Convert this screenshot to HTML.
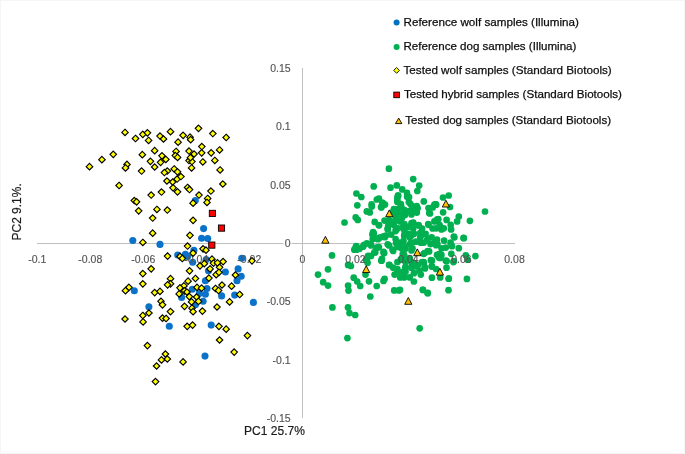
<!DOCTYPE html>
<html><head><meta charset="utf-8"><title>PCA plot</title>
<style>
html,body{margin:0;padding:0;background:#fff;}
body{width:685px;height:454px;overflow:hidden;position:relative;font-family:"Liberation Sans",sans-serif;}
svg{position:absolute;left:0;top:0;display:block;filter:blur(0.35px);}
</style></head><body>
<svg width="685" height="454" viewBox="0 0 685 454"><rect x="0.5" y="0.5" width="684" height="453" fill="none" stroke="#f5f5f5" stroke-width="1"/>
<g stroke="#bfbfbf" stroke-width="1"><line x1="37" y1="243.5" x2="515" y2="243.5"/><line x1="302.5" y1="68" x2="302.5" y2="418"/></g>
<g fill="#0a72c8"><circle cx="132.8" cy="240.5" r="3.55"/><circle cx="160" cy="244.4" r="3.55"/><circle cx="195.3" cy="200.6" r="3.55"/><circle cx="203.6" cy="228.6" r="3.55"/><circle cx="201.6" cy="238.3" r="3.55"/><circle cx="207.7" cy="238.6" r="3.55"/><circle cx="193.9" cy="250.2" r="3.55"/><circle cx="134.3" cy="290.7" r="3.55"/><circle cx="148.9" cy="306.7" r="3.55"/><circle cx="177.7" cy="255" r="3.55"/><circle cx="181.6" cy="297.4" r="3.55"/><circle cx="185.4" cy="254.2" r="3.55"/><circle cx="187.5" cy="256.5" r="3.55"/><circle cx="192.7" cy="262.3" r="3.55"/><circle cx="206.2" cy="259.6" r="3.55"/><circle cx="208.5" cy="270.8" r="3.55"/><circle cx="205.4" cy="280.8" r="3.55"/><circle cx="241.8" cy="258.2" r="3.55"/><circle cx="225.4" cy="272" r="3.55"/><circle cx="238.1" cy="268.9" r="3.55"/><circle cx="241.2" cy="276.2" r="3.55"/><circle cx="237" cy="280.8" r="3.55"/><circle cx="192.3" cy="289.3" r="3.55"/><circle cx="207" cy="288.5" r="3.55"/><circle cx="199.3" cy="293.6" r="3.55"/><circle cx="205.4" cy="294.3" r="3.55"/><circle cx="203.1" cy="301.3" r="3.55"/><circle cx="195.4" cy="304.7" r="3.55"/><circle cx="221.6" cy="295.9" r="3.55"/><circle cx="234.7" cy="295.1" r="3.55"/><circle cx="253.4" cy="302.4" r="3.55"/><circle cx="169.3" cy="326.3" r="3.55"/><circle cx="211.2" cy="325.1" r="3.55"/><circle cx="205" cy="356.1" r="3.55"/></g>
<g fill="#00b050"><circle cx="388.9" cy="168.7" r="3.35"/><circle cx="373.7" cy="186.4" r="3.35"/><circle cx="390.5" cy="187.7" r="3.35"/><circle cx="396.8" cy="185.4" r="3.35"/><circle cx="356.4" cy="193.5" r="3.35"/><circle cx="361.3" cy="197" r="3.35"/><circle cx="376.8" cy="199.5" r="3.35"/><circle cx="357.3" cy="205.3" r="3.35"/><circle cx="371.6" cy="204.4" r="3.35"/><circle cx="371.8" cy="206.6" r="3.35"/><circle cx="382.3" cy="202.7" r="3.35"/><circle cx="385" cy="204.6" r="3.35"/><circle cx="381" cy="207" r="3.35"/><circle cx="366.8" cy="211.4" r="3.35"/><circle cx="369.8" cy="212.5" r="3.35"/><circle cx="355.7" cy="217.4" r="3.35"/><circle cx="357.8" cy="219.9" r="3.35"/><circle cx="344.5" cy="222.5" r="3.35"/><circle cx="374.7" cy="221.9" r="3.35"/><circle cx="379" cy="225.3" r="3.35"/><circle cx="373.1" cy="232.1" r="3.35"/><circle cx="413.2" cy="179.1" r="3.35"/><circle cx="419.2" cy="185.6" r="3.35"/><circle cx="417.3" cy="191" r="3.35"/><circle cx="402.2" cy="189.4" r="3.35"/><circle cx="407" cy="192.9" r="3.35"/><circle cx="409.1" cy="197" r="3.35"/><circle cx="398" cy="195.7" r="3.35"/><circle cx="397.3" cy="200.2" r="3.35"/><circle cx="400.8" cy="204" r="3.35"/><circle cx="410.5" cy="204" r="3.35"/><circle cx="416.8" cy="206.1" r="3.35"/><circle cx="423.8" cy="201.4" r="3.35"/><circle cx="382.8" cy="203.3" r="3.35"/><circle cx="381.4" cy="207.4" r="3.35"/><circle cx="428.5" cy="208.1" r="3.35"/><circle cx="436.2" cy="204.7" r="3.35"/><circle cx="432.7" cy="207.4" r="3.35"/><circle cx="429.2" cy="213" r="3.35"/><circle cx="443" cy="197.5" r="3.35"/><circle cx="448.7" cy="195.5" r="3.35"/><circle cx="450" cy="207" r="3.35"/><circle cx="443.1" cy="212.3" r="3.35"/><circle cx="458.8" cy="216.5" r="3.35"/><circle cx="457.1" cy="221.4" r="3.35"/><circle cx="469.9" cy="220.8" r="3.35"/><circle cx="435.7" cy="204.4" r="3.35"/><circle cx="438.3" cy="219.2" r="3.35"/><circle cx="446.6" cy="219.9" r="3.35"/><circle cx="450.7" cy="224.8" r="3.35"/><circle cx="428.5" cy="224.8" r="3.35"/><circle cx="418.8" cy="225.5" r="3.35"/><circle cx="413.3" cy="222.7" r="3.35"/><circle cx="407.7" cy="226.9" r="3.35"/><circle cx="443.8" cy="228.3" r="3.35"/><circle cx="436.2" cy="228.3" r="3.35"/><circle cx="393.9" cy="222.7" r="3.35"/><circle cx="388.3" cy="225.5" r="3.35"/><circle cx="398" cy="228.3" r="3.35"/><circle cx="485" cy="211.5" r="3.35"/><circle cx="463.8" cy="238.2" r="3.35"/><circle cx="475.4" cy="256.1" r="3.35"/><circle cx="466.9" cy="278.9" r="3.35"/><circle cx="448.7" cy="278.7" r="3.35"/><circle cx="448.5" cy="290.2" r="3.35"/><circle cx="454.4" cy="237.3" r="3.35"/><circle cx="458.8" cy="248.2" r="3.35"/><circle cx="465.8" cy="255.3" r="3.35"/><circle cx="467.6" cy="259.7" r="3.35"/><circle cx="463.5" cy="237.9" r="3.35"/><circle cx="453.8" cy="236.5" r="3.35"/><circle cx="332" cy="255.4" r="3.35"/><circle cx="328" cy="269.3" r="3.35"/><circle cx="318" cy="274.6" r="3.35"/><circle cx="323.2" cy="282.2" r="3.35"/><circle cx="328" cy="285.6" r="3.35"/><circle cx="348.1" cy="264.9" r="3.35"/><circle cx="350.9" cy="266" r="3.35"/><circle cx="348.1" cy="285.5" r="3.35"/><circle cx="348.5" cy="290.6" r="3.35"/><circle cx="353.7" cy="277.7" r="3.35"/><circle cx="357.2" cy="281.5" r="3.35"/><circle cx="360.2" cy="286" r="3.35"/><circle cx="365.5" cy="274.6" r="3.35"/><circle cx="369" cy="281.3" r="3.35"/><circle cx="376.7" cy="286" r="3.35"/><circle cx="384.6" cy="278.8" r="3.35"/><circle cx="383.5" cy="280.9" r="3.35"/><circle cx="370.3" cy="296.5" r="3.35"/><circle cx="394.2" cy="290.4" r="3.35"/><circle cx="398.8" cy="290.4" r="3.35"/><circle cx="422.9" cy="289.8" r="3.35"/><circle cx="427.7" cy="293.2" r="3.35"/><circle cx="381.4" cy="260.7" r="3.35"/><circle cx="384.2" cy="253.1" r="3.35"/><circle cx="366.9" cy="259.4" r="3.35"/><circle cx="367.6" cy="262.8" r="3.35"/><circle cx="371" cy="255.9" r="3.35"/><circle cx="375.2" cy="252.4" r="3.35"/><circle cx="378" cy="247.6" r="3.35"/><circle cx="355.8" cy="246.9" r="3.35"/><circle cx="357.2" cy="249.6" r="3.35"/><circle cx="364.1" cy="244.8" r="3.35"/><circle cx="366.9" cy="243.4" r="3.35"/><circle cx="371" cy="245.5" r="3.35"/><circle cx="373.8" cy="238.5" r="3.35"/><circle cx="372.4" cy="234.4" r="3.35"/><circle cx="378" cy="239.2" r="3.35"/><circle cx="384.9" cy="237.2" r="3.35"/><circle cx="389.1" cy="245.5" r="3.35"/><circle cx="393.2" cy="251" r="3.35"/><circle cx="398.8" cy="242.7" r="3.35"/><circle cx="401.5" cy="248.3" r="3.35"/><circle cx="389.1" cy="264.9" r="3.35"/><circle cx="393.2" cy="267.7" r="3.35"/><circle cx="397.4" cy="271.8" r="3.35"/><circle cx="394.6" cy="274.6" r="3.35"/><circle cx="400.2" cy="277.4" r="3.35"/><circle cx="402.9" cy="271.8" r="3.35"/><circle cx="400.8" cy="259.4" r="3.35"/><circle cx="356.4" cy="246.1" r="3.35"/><circle cx="354.3" cy="249.7" r="3.35"/><circle cx="359.5" cy="248.7" r="3.35"/><circle cx="363" cy="246.7" r="3.35"/><circle cx="370.7" cy="244.1" r="3.35"/><circle cx="376.3" cy="247.7" r="3.35"/><circle cx="374.3" cy="252.3" r="3.35"/><circle cx="368.1" cy="255.9" r="3.35"/><circle cx="366.1" cy="259.9" r="3.35"/><circle cx="381.9" cy="258.9" r="3.35"/><circle cx="383.5" cy="251.8" r="3.35"/><circle cx="373.8" cy="233.4" r="3.35"/><circle cx="372.7" cy="239" r="3.35"/><circle cx="378.4" cy="238" r="3.35"/><circle cx="383.5" cy="236.4" r="3.35"/><circle cx="384.5" cy="220.6" r="3.35"/><circle cx="332.4" cy="307.4" r="3.35"/><circle cx="348" cy="307.4" r="3.35"/><circle cx="349.5" cy="313.1" r="3.35"/><circle cx="355.2" cy="315" r="3.35"/><circle cx="419.7" cy="328.3" r="3.35"/><circle cx="347.4" cy="338.1" r="3.35"/><circle cx="448.8" cy="278.5" r="3.35"/><circle cx="431.9" cy="277.7" r="3.35"/><circle cx="440.2" cy="277.4" r="3.35"/><circle cx="422.9" cy="289.9" r="3.35"/><circle cx="427.7" cy="292.9" r="3.35"/><circle cx="413.9" cy="281.5" r="3.35"/><circle cx="400" cy="289.9" r="3.35"/><circle cx="444.1" cy="240.6" r="3.35"/><circle cx="450.6" cy="242.7" r="3.35"/><circle cx="452" cy="246.2" r="3.35"/><circle cx="437" cy="239.5" r="3.35"/><circle cx="437.4" cy="244.1" r="3.35"/><circle cx="441.6" cy="248.3" r="3.35"/><circle cx="445.8" cy="247.6" r="3.35"/><circle cx="439.5" cy="253.8" r="3.35"/><circle cx="440.2" cy="258" r="3.35"/><circle cx="445.8" cy="260.7" r="3.35"/><circle cx="451.3" cy="253.8" r="3.35"/><circle cx="453.4" cy="262.1" r="3.35"/><circle cx="446.5" cy="267.7" r="3.35"/><circle cx="431.9" cy="260.7" r="3.35"/><circle cx="431.9" cy="266.3" r="3.35"/><circle cx="427.7" cy="251" r="3.35"/><circle cx="423.6" cy="253.8" r="3.35"/><circle cx="423.6" cy="262.1" r="3.35"/><circle cx="418" cy="264.9" r="3.35"/><circle cx="425" cy="268.4" r="3.35"/><circle cx="411.1" cy="267.7" r="3.35"/><circle cx="405.5" cy="271.8" r="3.35"/><circle cx="413.9" cy="273.2" r="3.35"/><circle cx="420.8" cy="274.6" r="3.35"/><circle cx="404.2" cy="277.4" r="3.35"/><circle cx="409.7" cy="277.4" r="3.35"/><circle cx="404.2" cy="235.8" r="3.35"/><circle cx="411.1" cy="235.8" r="3.35"/><circle cx="420.8" cy="235.8" r="3.35"/><circle cx="427.7" cy="238.5" r="3.35"/><circle cx="402.8" cy="242.7" r="3.35"/><circle cx="411.1" cy="242.7" r="3.35"/><circle cx="420.8" cy="242.7" r="3.35"/><circle cx="430.5" cy="244.1" r="3.35"/><circle cx="405.5" cy="248.3" r="3.35"/><circle cx="412.5" cy="248.3" r="3.35"/><circle cx="404.2" cy="255.2" r="3.35"/><circle cx="409.7" cy="258" r="3.35"/><circle cx="405.5" cy="262.1" r="3.35"/><circle cx="413.9" cy="262.8" r="3.35"/><circle cx="378.9" cy="198.5" r="3.35"/><circle cx="397.4" cy="197.6" r="3.35"/><circle cx="397.4" cy="202" r="3.35"/><circle cx="407.1" cy="196.8" r="3.35"/><circle cx="408.8" cy="202" r="3.35"/><circle cx="400.9" cy="204.7" r="3.35"/><circle cx="393.9" cy="209.1" r="3.35"/><circle cx="404.4" cy="210" r="3.35"/><circle cx="413.2" cy="206.5" r="3.35"/><circle cx="417.6" cy="208.2" r="3.35"/><circle cx="411.5" cy="214.4" r="3.35"/><circle cx="416.8" cy="212.6" r="3.35"/><circle cx="430" cy="213.5" r="3.35"/><circle cx="434.4" cy="204.7" r="3.35"/><circle cx="437" cy="219.7" r="3.35"/><circle cx="389.5" cy="220.5" r="3.35"/><circle cx="395.6" cy="217.9" r="3.35"/><circle cx="400" cy="221.4" r="3.35"/><circle cx="393.9" cy="225" r="3.35"/><circle cx="387.7" cy="229.4" r="3.35"/><circle cx="395.6" cy="231.1" r="3.35"/><circle cx="404.4" cy="230.2" r="3.35"/><circle cx="404.4" cy="224.1" r="3.35"/><circle cx="411.5" cy="223.2" r="3.35"/><circle cx="413.2" cy="228.5" r="3.35"/><circle cx="418.5" cy="225" r="3.35"/><circle cx="422.1" cy="228.5" r="3.35"/><circle cx="428.2" cy="224.1" r="3.35"/><circle cx="432.6" cy="228.5" r="3.35"/><circle cx="434.4" cy="221.4" r="3.35"/><circle cx="420.3" cy="232.9" r="3.35"/><circle cx="408.8" cy="233.8" r="3.35"/><circle cx="378.9" cy="225" r="3.35"/><circle cx="398.1" cy="195.7" r="3.35"/><circle cx="393.2" cy="211.6" r="3.35"/><circle cx="400.2" cy="214.4" r="3.35"/><circle cx="389" cy="220" r="3.35"/><circle cx="396" cy="229.6" r="3.35"/><circle cx="402.9" cy="226.9" r="3.35"/><circle cx="387.7" cy="228.3" r="3.35"/><circle cx="380.6" cy="237.3" r="3.35"/><circle cx="385.9" cy="235.5" r="3.35"/><circle cx="391.2" cy="234.6" r="3.35"/><circle cx="395.6" cy="239" r="3.35"/><circle cx="387.7" cy="244.3" r="3.35"/><circle cx="378.9" cy="247" r="3.35"/><circle cx="392.5" cy="249.6" r="3.35"/><circle cx="397.4" cy="245.2" r="3.35"/><circle cx="383.7" cy="253.1" r="3.35"/><circle cx="381.5" cy="260.6" r="3.35"/><circle cx="389.5" cy="265" r="3.35"/><circle cx="397.4" cy="262" r="3.35"/><circle cx="397.4" cy="269" r="3.35"/><circle cx="404.4" cy="234.6" r="3.35"/><circle cx="403.5" cy="240.8" r="3.35"/><circle cx="404.4" cy="249.6" r="3.35"/><circle cx="402.7" cy="254" r="3.35"/><circle cx="409.7" cy="237.3" r="3.35"/><circle cx="409.7" cy="244.3" r="3.35"/><circle cx="411.5" cy="250.5" r="3.35"/><circle cx="414.1" cy="233.8" r="3.35"/><circle cx="415.9" cy="241.7" r="3.35"/><circle cx="420.3" cy="237.3" r="3.35"/><circle cx="423.8" cy="242.6" r="3.35"/><circle cx="427.3" cy="239.9" r="3.35"/><circle cx="431.7" cy="237.3" r="3.35"/><circle cx="435.3" cy="240.8" r="3.35"/><circle cx="436.1" cy="245.2" r="3.35"/><circle cx="424.7" cy="253.1" r="3.35"/><circle cx="429.1" cy="251.4" r="3.35"/><circle cx="437" cy="254.9" r="3.35"/><circle cx="405.3" cy="260.2" r="3.35"/><circle cx="411.5" cy="262.8" r="3.35"/><circle cx="405.3" cy="267.2" r="3.35"/><circle cx="415" cy="266.4" r="3.35"/><circle cx="422.1" cy="262" r="3.35"/><circle cx="424.7" cy="267.2" r="3.35"/><circle cx="430.9" cy="260.2" r="3.35"/><circle cx="431.7" cy="266.4" r="3.35"/><circle cx="436.1" cy="269" r="3.35"/><circle cx="419.4" cy="270.8" r="3.35"/><circle cx="398" cy="247" r="3.35"/><circle cx="396" cy="243" r="3.35"/><circle cx="404" cy="246" r="3.35"/><circle cx="405" cy="215" r="3.35"/><circle cx="409" cy="211" r="3.35"/><circle cx="402" cy="218" r="3.35"/><circle cx="412" cy="209" r="3.35"/><circle cx="398" cy="209" r="3.35"/><circle cx="394.5" cy="212.5" r="3.35"/><circle cx="401.5" cy="207.5" r="3.35"/><circle cx="439.7" cy="225" r="3.35"/><circle cx="441.4" cy="229.4" r="3.35"/><circle cx="451.1" cy="229.4" r="3.35"/><circle cx="425.6" cy="233.8" r="3.35"/><circle cx="441.4" cy="254.9" r="3.35"/><circle cx="438.8" cy="257.5" r="3.35"/><circle cx="453.8" cy="261.1" r="3.35"/><circle cx="446.7" cy="261.1" r="3.35"/><circle cx="423.8" cy="262.8" r="3.35"/></g>
<rect x="283.5" y="238" width="8" height="10" fill="#fff"/>
<g font-family="Liberation Sans, sans-serif" font-size="10.5" fill="#555" stroke="#555" stroke-width="0.15"><text x="290.7" y="72.1" text-anchor="end">0.15</text><text x="290.7" y="130.4" text-anchor="end">0.1</text><text x="290.7" y="188.7" text-anchor="end">0.05</text><text x="290.7" y="247" text-anchor="end">0</text><text x="290.7" y="305.3" text-anchor="end">-0.05</text><text x="290.7" y="363.6" text-anchor="end">-0.1</text><text x="290.7" y="421.9" text-anchor="end">-0.15</text><text x="37.3" y="263.0" text-anchor="middle">-0.1</text><text x="90.3" y="263.0" text-anchor="middle">-0.08</text><text x="143.3" y="263.0" text-anchor="middle">-0.06</text><text x="196.3" y="263.0" text-anchor="middle">-0.04</text><text x="249.3" y="263.0" text-anchor="middle">-0.02</text><text x="302.4" y="263.0" text-anchor="middle">0</text><text x="355.4" y="263.0" text-anchor="middle">0.02</text><text x="408.4" y="263.0" text-anchor="middle">0.04</text><text x="461.4" y="263.0" text-anchor="middle">0.06</text><text x="514.5" y="263.0" text-anchor="middle">0.08</text></g>
<g fill="#ffff00" stroke="#000" stroke-width="1.15"><path d="M125 129.2L128.2 132.4L125 135.7L121.8 132.4Z"/><path d="M135.5 135.2L138.8 138.5L135.5 141.8L132.2 138.5Z"/><path d="M142.8 131.1L146.1 134.3L142.8 137.6L139.6 134.3Z"/><path d="M147.4 129.6L150.7 132.8L147.4 136.1L144.2 132.8Z"/><path d="M148.6 137.2L151.8 140.4L148.6 143.7L145.3 140.4Z"/><path d="M160 132.8L163.2 136.1L160 139.3L156.8 136.1Z"/><path d="M163.5 135.8L166.8 139L163.5 142.2L160.2 139Z"/><path d="M170.5 128.4L173.8 131.7L170.5 134.9L167.2 131.7Z"/><path d="M178.1 138.9L181.3 142.2L178.1 145.4L174.8 142.2Z"/><path d="M113.3 151.1L116.5 154.3L113.3 157.6L110 154.3Z"/><path d="M101.9 156.4L105.2 159.7L101.9 162.9L98.7 159.7Z"/><path d="M89.5 163.4L92.8 166.7L89.5 169.9L86.2 166.7Z"/><path d="M127 161.2L130.2 164.5L127 167.8L123.8 164.5Z"/><path d="M125.5 164.7L128.8 167.9L125.5 171.2L122.2 167.9Z"/><path d="M142.3 151.4L145.6 154.7L142.3 157.9L139.1 154.7Z"/><path d="M154.7 147.4L157.9 150.7L154.7 153.9L151.4 150.7Z"/><path d="M150.4 158.1L153.7 161.3L150.4 164.6L147.2 161.3Z"/><path d="M154.7 163.8L157.9 167L154.7 170.2L151.4 167Z"/><path d="M162 152.6L165.2 155.8L162 159.1L158.8 155.8Z"/><path d="M165.8 156.2L169.1 159.4L165.8 162.7L162.6 159.4Z"/><path d="M160.6 159.1L163.8 162.3L160.6 165.6L157.3 162.3Z"/><path d="M141.6 167.8L144.8 171.1L141.6 174.3L138.3 171.1Z"/><path d="M176.1 148.2L179.3 151.4L176.1 154.7L172.8 151.4Z"/><path d="M175.3 152.3L178.6 155.6L175.3 158.8L172.1 155.6Z"/><path d="M177.6 154.2L180.8 157.4L177.6 160.7L174.3 157.4Z"/><path d="M167.3 167.8L170.6 171.1L167.3 174.3L164.1 171.1Z"/><path d="M164.4 169.3L167.7 172.6L164.4 175.8L161.2 172.6Z"/><path d="M174.2 165.7L177.4 168.9L174.2 172.2L170.9 168.9Z"/><path d="M177.5 168.6L180.8 171.8L177.5 175.1L174.2 171.8Z"/><path d="M166.9 177.8L170.2 181L166.9 184.2L163.7 181Z"/><path d="M172.7 178.8L175.9 182L172.7 185.2L169.4 182Z"/><path d="M177.1 175.8L180.3 179.1L177.1 182.3L173.8 179.1Z"/><path d="M119.1 182.2L122.3 185.5L119.1 188.8L115.8 185.5Z"/><path d="M198.5 125.1L201.8 128.3L198.5 131.6L195.2 128.3Z"/><path d="M212.8 130.3L216.1 133.6L212.8 136.8L209.6 133.6Z"/><path d="M226.2 134.2L229.4 137.5L226.2 140.8L222.9 137.5Z"/><path d="M183.1 132.1L186.3 135.3L183.1 138.6L179.8 135.3Z"/><path d="M190.1 133.9L193.3 137.2L190.1 140.4L186.8 137.2Z"/><path d="M190.7 136.4L193.9 139.7L190.7 142.9L187.4 139.7Z"/><path d="M201.8 143.3L205.1 146.6L201.8 149.8L198.6 146.6Z"/><path d="M219.6 146.7L222.8 149.9L219.6 153.2L216.3 149.9Z"/><path d="M189 147.8L192.2 151.1L189 154.3L185.8 151.1Z"/><path d="M194.1 150.8L197.3 154L194.1 157.2L190.8 154Z"/><path d="M201.7 149.6L204.9 152.8L201.7 156.1L198.4 152.8Z"/><path d="M211.2 149.6L214.4 152.8L211.2 156.1L207.9 152.8Z"/><path d="M189 157.3L192.2 160.6L189 163.8L185.8 160.6Z"/><path d="M191.9 158.3L195.2 161.6L191.9 164.8L188.7 161.6Z"/><path d="M190.4 154.4L193.7 157.7L190.4 160.9L187.2 157.7Z"/><path d="M202.8 158.7L206.1 161.9L202.8 165.2L199.6 161.9Z"/><path d="M214.8 157.2L218.1 160.4L214.8 163.7L211.6 160.4Z"/><path d="M191.6 164.7L194.8 167.9L191.6 171.2L188.3 167.9Z"/><path d="M220.1 166.7L223.3 169.9L220.1 173.2L216.8 169.9Z"/><path d="M180.9 173.3L184.2 176.6L180.9 179.8L177.7 176.6Z"/><path d="M222.8 180.8L226.1 184L222.8 187.2L219.6 184Z"/><path d="M151.2 191.8L154.4 195.1L151.2 198.3L147.9 195.1Z"/><path d="M161.5 188.8L164.8 192.1L161.5 195.3L158.2 192.1Z"/><path d="M173.1 184.6L176.3 187.8L173.1 191.1L169.8 187.8Z"/><path d="M177.5 188.6L180.8 191.8L177.5 195.1L174.2 191.8Z"/><path d="M134.3 197.3L137.6 200.6L134.3 203.8L131.1 200.6Z"/><path d="M136.6 198.6L139.8 201.8L136.6 205.1L133.3 201.8Z"/><path d="M138.7 207.6L141.9 210.8L138.7 214.1L135.4 210.8Z"/><path d="M156.9 206.2L160.2 209.4L156.9 212.7L153.7 209.4Z"/><path d="M167.3 206.8L170.6 210.1L167.3 213.3L164.1 210.1Z"/><path d="M152.7 214.8L155.9 218.1L152.7 221.3L149.4 218.1Z"/><path d="M152.7 229.9L155.9 233.2L152.7 236.4L149.4 233.2Z"/><path d="M142.8 239.2L146.1 242.4L142.8 245.7L139.6 242.4Z"/><path d="M187.6 184.2L190.8 187.5L187.6 190.8L184.3 187.5Z"/><path d="M189.5 186.3L192.8 189.6L189.5 192.8L186.2 189.6Z"/><path d="M210.9 187.8L214.2 191.1L210.9 194.3L207.7 191.1Z"/><path d="M199 191.8L202.2 195.1L199 198.3L195.8 195.1Z"/><path d="M207.7 195.2L210.9 198.4L207.7 201.7L204.4 198.4Z"/><path d="M207 199.2L210.2 202.4L207 205.7L203.8 202.4Z"/><path d="M193.1 199.9L196.3 203.2L193.1 206.4L189.8 203.2Z"/><path d="M193.1 217.1L196.3 220.3L193.1 223.6L189.8 220.3Z"/><path d="M189.9 232.1L193.2 235.3L189.9 238.6L186.7 235.3Z"/><path d="M187.6 242.8L190.8 246.1L187.6 249.3L184.3 246.1Z"/><path d="M203.1 245.6L206.3 248.8L203.1 252.1L199.8 248.8Z"/><path d="M206 246.9L209.2 250.2L206 253.4L202.8 250.2Z"/><path d="M167.6 252.9L170.8 256.1L167.6 259.4L164.3 256.1Z"/><path d="M151.2 265.6L154.4 268.8L151.2 272.1L147.9 268.8Z"/><path d="M142.8 270.4L146.1 273.6L142.8 276.9L139.6 273.6Z"/><path d="M170.5 275.4L173.8 278.7L170.5 281.9L167.2 278.7Z"/><path d="M170.5 280.6L173.8 283.8L170.5 287.1L167.2 283.8Z"/><path d="M167.6 281.6L170.8 284.8L167.6 288.1L164.3 284.8Z"/><path d="M142.8 280.6L146.1 283.8L142.8 287.1L139.6 283.8Z"/><path d="M128.9 284.1L132.2 287.3L128.9 290.6L125.7 287.3Z"/><path d="M125.5 287.4L128.8 290.7L125.5 293.9L122.2 290.7Z"/><path d="M154.7 289.4L157.9 292.6L154.7 295.9L151.4 292.6Z"/><path d="M160 288.1L163.2 291.4L160 294.6L156.8 291.4Z"/><path d="M161 298.1L164.2 301.3L161 304.6L157.8 301.3Z"/><path d="M162.5 301.6L165.8 304.8L162.5 308.1L159.2 304.8Z"/><path d="M148.9 309.8L152.2 313L148.9 316.2L145.7 313Z"/><path d="M142.8 312.2L146.1 315.5L142.8 318.8L139.6 315.5Z"/><path d="M170.5 308.4L173.8 311.6L170.5 314.9L167.2 311.6Z"/><path d="M125 315.8L128.2 319L125 322.2L121.8 319Z"/><path d="M162.5 314.9L165.8 318.1L162.5 321.4L159.2 318.1Z"/><path d="M166.1 315.2L169.3 318.5L166.1 321.8L162.8 318.5Z"/><path d="M180 253.2L183.2 256.5L180 259.8L176.8 256.5Z"/><path d="M182.3 255.2L185.6 258.5L182.3 261.8L179.1 258.5Z"/><path d="M193.1 249.8L196.3 253.1L193.1 256.4L189.8 253.1Z"/><path d="M200 262.6L203.2 265.8L200 269.1L196.8 265.8Z"/><path d="M204.3 260.4L207.6 263.7L204.3 266.9L201.1 263.7Z"/><path d="M212 255.9L215.2 259.2L212 262.4L208.8 259.2Z"/><path d="M213.5 259.9L216.8 263.1L213.5 266.4L210.2 263.1Z"/><path d="M217.5 259.6L220.8 262.9L217.5 266.1L214.2 262.9Z"/><path d="M210.1 265.6L213.3 268.9L210.1 272.1L206.8 268.9Z"/><path d="M189.6 267.6L192.8 270.8L189.6 274.1L186.3 270.8Z"/><path d="M216.2 271.4L219.4 274.7L216.2 277.9L212.9 274.7Z"/><path d="M219.6 264.1L222.8 267.3L219.6 270.6L216.3 267.3Z"/><path d="M218.9 269.1L222.2 272.3L218.9 275.6L215.7 272.3Z"/><path d="M208.9 274.9L212.2 278.1L208.9 281.4L205.7 278.1Z"/><path d="M195.4 275.2L198.7 278.5L195.4 281.8L192.2 278.5Z"/><path d="M188.1 277.9L191.3 281.2L188.1 284.4L184.8 281.2Z"/><path d="M252 257.6L255.2 260.8L252 264.1L248.8 260.8Z"/><path d="M223.1 258.4L226.3 261.6L223.1 264.9L219.8 261.6Z"/><path d="M235.4 271.8L238.7 275L235.4 278.2L232.2 275Z"/><path d="M183.9 282.6L187.2 285.9L183.9 289.1L180.7 285.9Z"/><path d="M180 284.6L183.2 287.8L180 291.1L176.8 287.8Z"/><path d="M184.6 287.6L187.8 290.9L184.6 294.1L181.3 290.9Z"/><path d="M186.9 288.8L190.2 292L186.9 295.2L183.7 292Z"/><path d="M179.2 290.6L182.4 293.9L179.2 297.1L175.9 293.9Z"/><path d="M197 284.1L200.2 287.4L197 290.6L193.8 287.4Z"/><path d="M201.6 284.9L204.8 288.2L201.6 291.4L198.3 288.2Z"/><path d="M189.3 293.4L192.6 296.6L189.3 299.9L186.1 296.6Z"/><path d="M196.6 293.8L199.8 297L196.6 300.2L193.3 297Z"/><path d="M191.6 298.6L194.8 301.9L191.6 305.1L188.3 301.9Z"/><path d="M198.5 298.1L201.8 301.3L198.5 304.6L195.2 301.3Z"/><path d="M184.5 303.1L187.8 306.3L184.5 309.6L181.2 306.3Z"/><path d="M192 304.9L195.2 308.2L192 311.4L188.8 308.2Z"/><path d="M193.1 308.4L196.3 311.7L193.1 314.9L189.8 311.7Z"/><path d="M202.4 307.9L205.7 311.1L202.4 314.4L199.2 311.1Z"/><path d="M215.5 285.2L218.8 288.5L215.5 291.8L212.2 288.5Z"/><path d="M218.5 287.2L221.8 290.5L218.5 293.8L215.2 290.5Z"/><path d="M217 303.8L220.2 307L217 310.2L213.8 307Z"/><path d="M222 281.8L225.2 285L222 288.2L218.8 285Z"/><path d="M231.6 282.9L234.8 286.2L231.6 289.4L228.3 286.2Z"/><path d="M239.7 291.2L242.9 294.5L239.7 297.8L236.4 294.5Z"/><path d="M229.6 298.6L232.8 301.9L229.6 305.1L226.3 301.9Z"/><path d="M143.1 318.6L146.3 321.9L143.1 325.1L139.8 321.9Z"/><path d="M147.4 342.4L150.7 345.6L147.4 348.9L144.2 345.6Z"/><path d="M165.4 350.8L168.7 354L165.4 357.2L162.2 354Z"/><path d="M161.5 356.6L164.8 359.9L161.5 363.1L158.2 359.9Z"/><path d="M167.3 355.8L170.6 359L167.3 362.2L164.1 359Z"/><path d="M156.6 362.8L159.8 366L156.6 369.2L153.3 366Z"/><path d="M187.2 323.1L190.4 326.3L187.2 329.6L183.9 326.3Z"/><path d="M192.6 321.9L195.8 325.1L192.6 328.4L189.3 325.1Z"/><path d="M218.9 323.1L222.2 326.3L218.9 329.6L215.7 326.3Z"/><path d="M226.2 325.9L229.4 329.2L226.2 332.4L222.9 329.2Z"/><path d="M247.4 332.4L250.7 335.6L247.4 338.9L244.2 335.6Z"/><path d="M219.6 336.8L222.8 340L219.6 343.2L216.3 340Z"/><path d="M234.2 348.9L237.4 352.1L234.2 355.4L230.9 352.1Z"/><path d="M183.1 358.6L186.3 361.9L183.1 365.1L179.8 361.9Z"/><path d="M155.5 378.4L158.8 381.6L155.5 384.9L152.2 381.6Z"/></g>
<g fill="#ff0000" stroke="#000" stroke-width="0.9"><rect x="209.3" y="210.3" width="6.2" height="6.2"/><rect x="218.4" y="225" width="6.2" height="6.2"/><rect x="208.7" y="242" width="6.2" height="6.2"/></g>
<g fill="#ffc000" stroke="#000" stroke-width="0.9" stroke-linejoin="miter"><path d="M325.4 236.4L329 243.2L321.8 243.2Z"/><path d="M389.3 209.9L392.9 216.7L385.7 216.7Z"/><path d="M445.9 200.2L449.5 207L442.3 207Z"/><path d="M366.2 265.8L369.8 272.6L362.6 272.6Z"/><path d="M417.3 248.9L420.9 255.7L413.7 255.7Z"/><path d="M439.9 268.3L443.5 275.1L436.3 275.1Z"/><path d="M408.3 297.5L411.9 304.3L404.7 304.3Z"/></g>
<text x="274.5" y="434.9" text-anchor="middle" font-family="Liberation Sans, sans-serif" font-size="13.2" fill="#1a1a1a" stroke="#1a1a1a" stroke-width="0.2" textLength="60.8" lengthAdjust="spacingAndGlyphs">PC1 25.7%</text>
<text transform="translate(21.3 211.9) rotate(-90)" text-anchor="middle" font-family="Liberation Sans, sans-serif" font-size="13.4" fill="#1a1a1a" stroke="#1a1a1a" stroke-width="0.2" textLength="57.2" lengthAdjust="spacingAndGlyphs">PC2 9.1%.</text>
<g font-family="Liberation Sans, sans-serif" font-size="11.8" fill="#0d0d0d" stroke="#0d0d0d" stroke-width="0.25"><circle cx="396.6" cy="22.6" r="3.0" fill="#0070c0" stroke="none"/><text x="403.5" y="25.8" textLength="175.4" lengthAdjust="spacingAndGlyphs">Reference wolf samples (Illumina)</text><circle cx="396.6" cy="47.1" r="3.0" fill="#00b050" stroke="none"/><text x="403.5" y="50.3" textLength="172.9" lengthAdjust="spacingAndGlyphs">Reference dog samples (Illumina)</text><path d="M396.6 67.5L399.5 70.4L396.6 73.30000000000001L393.70000000000005 70.4Z" fill="#ffff00" stroke="#000" stroke-width="0.9"/><text x="403.5" y="73.6" textLength="208.2" lengthAdjust="spacingAndGlyphs">Tested wolf samples (Standard Biotools)</text><rect x="393.8" y="92.10000000000001" width="5.6" height="5.6" fill="#ff0000" stroke="#000" stroke-width="0.9"/><text x="403.90000000000003" y="98.1" textLength="218.1" lengthAdjust="spacingAndGlyphs">Tested hybrid samples (Standard Biotools)</text><path d="M398.7 118.1L401.9 123.6L395.5 123.6Z" fill="#ffc000" stroke="#000" stroke-width="0.9"/><text x="405.3" y="124.2" textLength="205.8" lengthAdjust="spacingAndGlyphs">Tested dog samples (Standard Biotools)</text></g></svg>
</body></html>
